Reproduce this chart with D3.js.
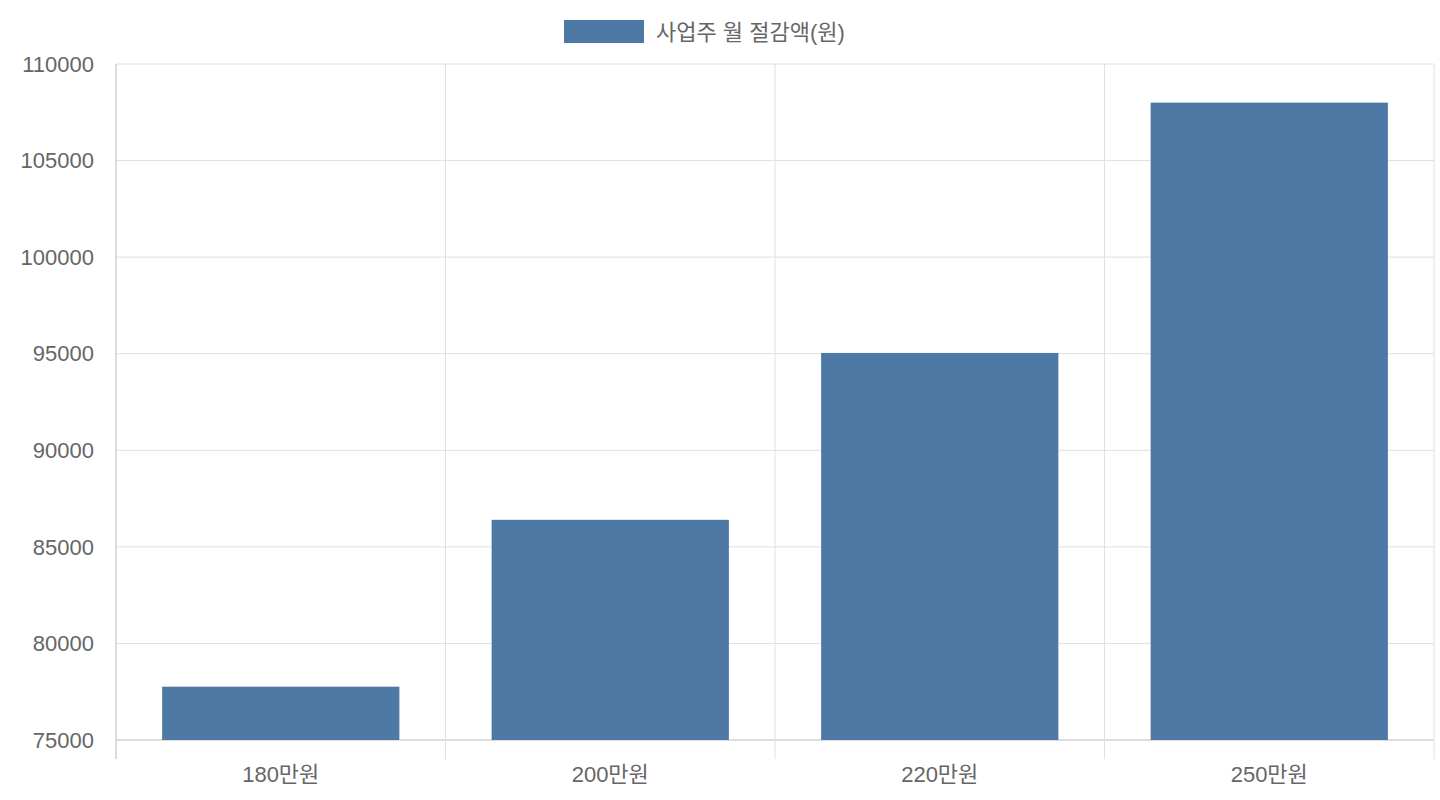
<!DOCTYPE html>
<html><head><meta charset="utf-8">
<script src="https://cdn.jsdelivr.net/npm/d3@7"></script>
<style>body{margin:0;background:#fff}svg{font-family:"Liberation Sans","Noto Sans CJK KR",sans-serif}</style>
</head><body><svg width="1440" height="800"></svg>
<script>
const categories = ["180만원", "200만원", "220만원", "250만원"];
const values = [77760, 86400, 95040, 108000];
const yTicks = [75000, 80000, 85000, 90000, 95000, 100000, 105000, 110000];
const seriesName = "사업주 월 절감액(원)";

const svg = d3.select("svg");
const mLeft = 116, mRight = 1434, mTop = 64, mBottom = 740;
const x = d3.scaleBand().domain(categories).range([mLeft, mRight]);
const y = d3.scaleLinear().domain([75000, 110000]).range([mBottom, mTop]);
const grid = "#e0e0e0", txt = "#666";

// horizontal grid
svg.append("g").selectAll("line").data(yTicks).join("line")
  .attr("x1", mLeft).attr("x2", mRight).attr("y1", d => y(d)).attr("y2", d => y(d))
  .attr("stroke", d => d === 75000 ? "#bbb" : grid);
// vertical grid at band edges
const edges = categories.map(c => x(c)).concat([mRight]);
svg.append("g").selectAll("line").data(edges).join("line")
  .attr("x1", d => d).attr("x2", d => d).attr("y1", mTop).attr("y2", mBottom + 19)
  .attr("stroke", (d, i) => i === 0 ? "#bbb" : grid);

svg.append("g").selectAll("text").data(yTicks).join("text")
  .attr("x", 94).attr("y", d => y(d)).attr("dy", "0.35em").attr("text-anchor", "end")
  .attr("fill", txt).attr("font-size", 22).text(d => d);

svg.append("g").selectAll("text").data(categories).join("text")
  .attr("x", d => x(d) + x.bandwidth() / 2).attr("y", 782).attr("text-anchor", "middle")
  .attr("fill", txt).attr("font-size", 22).text(d => d);

const bw = x.bandwidth() * 0.72;
svg.append("g").selectAll("rect").data(values).join("rect")
  .attr("x", (d, i) => x(categories[i]) + (x.bandwidth() - bw) / 2)
  .attr("width", bw).attr("y", d => y(d)).attr("height", d => mBottom - y(d))
  .attr("fill", "#4e79a5");

svg.append("rect").attr("x", 564).attr("y", 20).attr("width", 80).attr("height", 23).attr("fill", "#4e79a5");
svg.append("text").attr("x", 656).attr("y", 32).attr("dy", "0.35em").attr("fill", txt)
  .attr("font-size", 22).text(seriesName);
</script></body></html>
